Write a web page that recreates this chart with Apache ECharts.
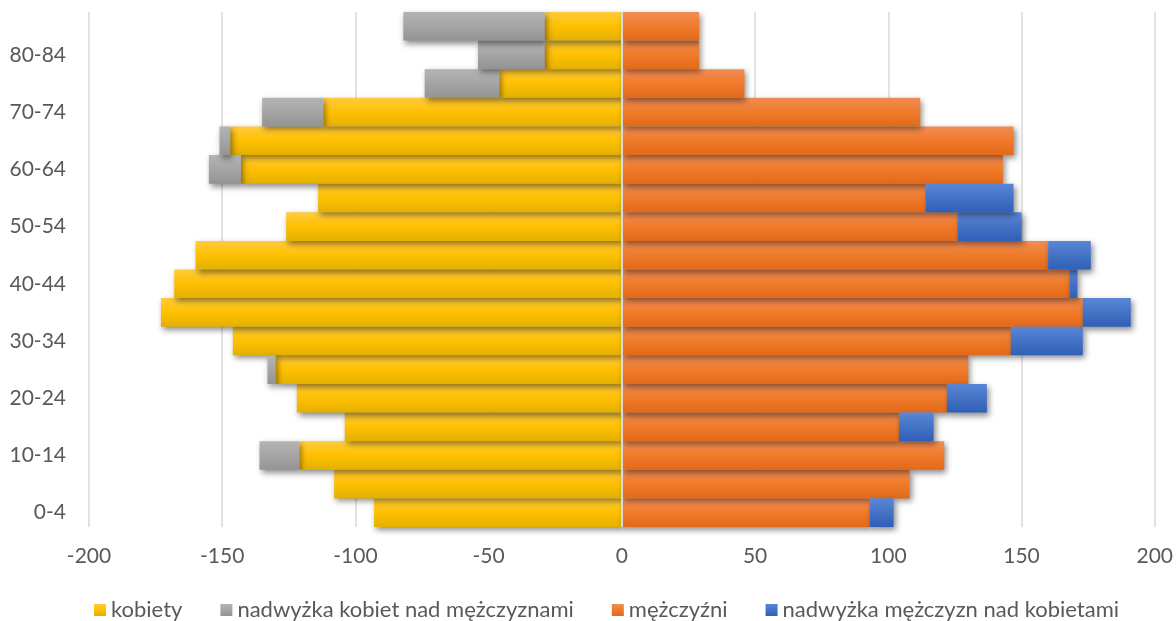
<!DOCTYPE html>
<html>
<head>
<meta charset="utf-8">
<script src="https://cdn.jsdelivr.net/npm/echarts@6/dist/echarts.min.js"></script>
<style>
html,body{margin:0;padding:0;background:#fff;}
#chart{width:1176px;height:621px;}
</style>
</head>
<body>
<div id="chart"></div>
<script>
const ageGroups = ['0-4','5-9','10-14','15-19','20-24','25-29','30-34','35-39','40-44','45-49','50-54','55-59','60-64','65-69','70-74','75-79','80-84','85+'];
const kobiety = [-93,-108,-121,-104,-122,-130,-146,-173,-168,-160,-126,-114,-143,-147,-112,-46,-29,-29];
const nadwyzkaKobiet = [0,0,-15,0,0,-3,0,0,0,0,0,0,-12,-4,-23,-28,-25,-53];
const mezczyzni = [93,108,121,104,122,130,146,173,168,160,126,114,143,147,112,46,29,29];
const nadwyzkaMezczyzn = [9,0,0,13,15,0,27,18,3,16,24,33,0,0,0,0,0,0];
const xTicks = [-200,-150,-100,-50,0,50,100,150,200];

const FONT = 'Lato';
const TXT = '#595959';

function grad(top, mid, bottom){
  return new echarts.graphic.LinearGradient(0,0,0,1,[
    {offset:0,color:top},{offset:0.5,color:mid},{offset:1,color:bottom}
  ]);
}
const shadow = {shadowBlur:6, shadowOffsetX:2, shadowOffsetY:3, shadowColor:'rgba(0,0,0,0.45)'};

function mk(name, data, color, extra){
  return Object.assign({
    name, type:'bar', stack:'total', data,
    barCategoryGap:'0%',
    itemStyle: Object.assign({color}, shadow),
    emphasis:{disabled:true}
  }, extra||{});
}

const chart = echarts.init(document.getElementById('chart'));
chart.setOption({
  animation:false,
  backgroundColor:'#fff',
  grid:{left:89, right:21, top:12, bottom:94, containLabel:false},
  xAxis:{
    type:'value', min:xTicks[0], max:xTicks[xTicks.length-1], interval:50,
    axisLine:{show:false}, axisTick:{show:false},
    splitLine:{show:true, lineStyle:{color:'#d9d9d9', width:1.5}},
    axisLabel:{color:TXT, fontFamily:FONT, fontSize:21, margin:19}
  },
  yAxis:{
    type:'category', data:ageGroups,
    axisLine:{show:false}, axisTick:{show:false},
    axisLabel:{color:TXT, fontFamily:FONT, fontSize:21, interval:1, margin:23}
  },
  legend:{
    left:89, top:594, itemWidth:12, itemHeight:12, itemGap:38, icon:'rect',
    textStyle:{color:TXT, fontFamily:FONT, fontSize:22},
    data:['kobiety','nadwyżka kobiet nad mężczyznami','mężczyźni','nadwyżka mężczyzn nad kobietami']
  },
  series:[
    mk('kobiety', kobiety, grad('#ffcb3d','#ffc000','#e3b000')),
    mk('nadwyżka kobiet nad mężczyznami', nadwyzkaKobiet, grad('#b3b3b3','#a5a5a5','#939393')),
    mk('mężczyźni', mezczyzni, grad('#f08d55','#f07b2a','#e2691a')),
    mk('nadwyżka mężczyzn nad kobietami', nadwyzkaMezczyzn, grad('#5a86d6','#4472c4','#2f5fb8'), {
      markLine:{
        silent:true, symbol:'none', label:{show:false},
        lineStyle:{color:'#d9d9d9', width:2, type:'solid'},
        data:[{xAxis:0}]
      }
    })
  ]
});
</script>
</body>
</html>
